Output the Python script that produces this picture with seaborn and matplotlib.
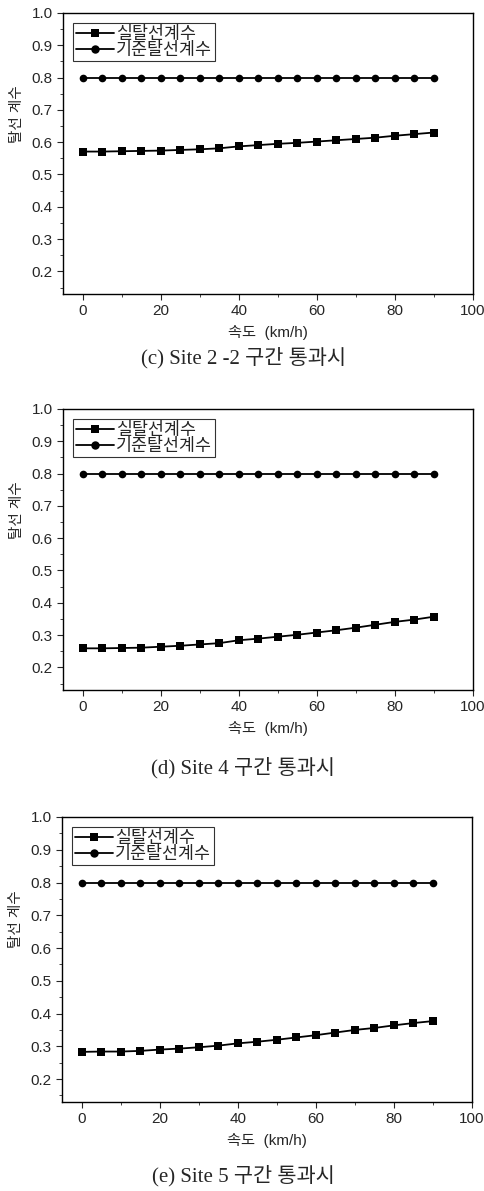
import numpy as np
import pandas as pd
import matplotlib.pyplot as plt
import seaborn as sns

sns.set_style('ticks')
plt.rcParams['font.family'] = ['Liberation Sans', 'Noto Sans CJK KR']

speed = list(range(0, 95, 5))
ref_coef = [0.8] * 19

real_c = [0.571, 0.571, 0.572, 0.573, 0.574, 0.576, 0.578, 0.581, 0.587, 0.591,
          0.595, 0.598, 0.602, 0.606, 0.610, 0.614, 0.620, 0.625, 0.630]
real_d = [0.259, 0.259, 0.260, 0.261, 0.264, 0.267, 0.271, 0.275, 0.284, 0.289,
          0.295, 0.301, 0.308, 0.315, 0.323, 0.332, 0.341, 0.348, 0.357]
real_e = [0.283, 0.284, 0.284, 0.286, 0.290, 0.293, 0.297, 0.302, 0.309, 0.314,
          0.320, 0.327, 0.334, 0.342, 0.350, 0.356, 0.364, 0.371, 0.377]

captions = ['(c) Site 2 -2 구간 통과시', '(d) Site 4 구간 통과시', '(e) Site 5 구간 통과시']
real_name = '실탈선계수'
ref_name = '기준탈선계수'

W, H = 484, 1191
fig = plt.figure(figsize=(W / 100, H / 100), dpi=100)

# axes boxes in pixels: left, top, right, bottom
boxes = [(63, 13, 473, 294), (63, 409, 473, 690), (62, 817, 472, 1102)]
cap_y = [358, 768, 1176]

for real, cap, (l, t, r, b), cy in zip([real_c, real_d, real_e], captions, boxes, cap_y):
    ax = fig.add_axes([l / W, 1 - b / H, (r - l) / W, (b - t) / H])
    df = pd.DataFrame({
        'speed': speed * 2,
        'coef': real + ref_coef,
        'series': [real_name] * 19 + [ref_name] * 19,
    })
    sns.lineplot(data=df, x='speed', y='coef', hue='series', style='series',
                 markers={real_name: 's', ref_name: 'o'}, dashes=False,
                 palette={real_name: 'black', ref_name: 'black'},
                 markersize=5.5, linewidth=1.3, markeredgewidth=0, ax=ax)
    ax.set_xlim(-5, 100)
    ax.set_ylim(0.13, 1.0)
    ax.set_xticks([0, 20, 40, 60, 80, 100])
    ax.set_xticks([10, 30, 50, 70, 90], minor=True)
    ax.set_yticks([0.2, 0.3, 0.4, 0.5, 0.6, 0.7, 0.8, 0.9, 1.0])
    ax.set_yticks(np.arange(0.15, 1.0, 0.1), minor=True)
    ax.tick_params(axis='both', which='major', length=4, width=0.8, labelsize=11, direction='out')
    ax.tick_params(axis='both', which='minor', length=2, width=0.6, direction='out')
    for s in ax.spines.values():
        s.set_linewidth(1.0)
        s.set_color('black')
    ax.set_xlabel('속도  (km/h)', fontsize=11, labelpad=5)
    ax.set_ylabel('탈선 계수', fontsize=10.5)
    ax.yaxis.set_label_coords(-0.095, 0.64)
    leg = ax.legend(loc='upper left', fontsize=12.5, frameon=True, fancybox=False,
                    edgecolor='black', handlelength=2.2, handletextpad=0.1,
                    borderpad=0.15, labelspacing=0.0, borderaxespad=0.6,
                    markerscale=1.1)
    leg.get_frame().set_linewidth(0.8)
    leg.set_title(None)
    fig.text(243 / W, 1 - cy / H, cap, ha='center', va='center',
             fontsize=15, family=['Liberation Serif', 'Noto Sans CJK KR'])

fig.savefig('out.png', dpi=100)
